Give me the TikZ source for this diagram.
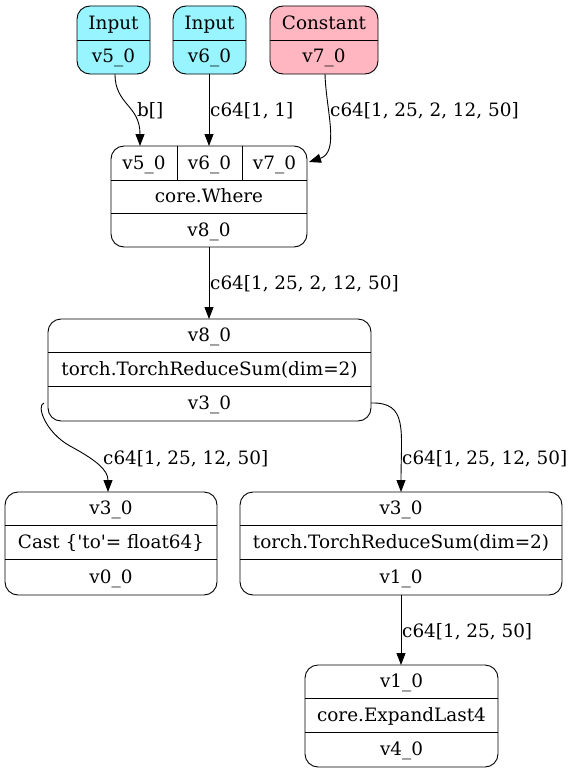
\documentclass[tikz,border=0pt]{standalone}
\usepackage{fontspec}
\setmainfont{DejaVu Serif}
\usetikzlibrary{arrows.meta}
\definecolor{inputfill}{HTML}{98F5FF}
\definecolor{constfill}{HTML}{FFB6C1}
\begin{document}
\begin{tikzpicture}[x=1bp,y=-1bp,
  font=\fontsize{18.4bp}{22bp}\selectfont,
  record/.style={draw, line width=0.9bp, rounded corners=13bp},
  divider/.style={line width=0.9bp},
  cell/.style={inner sep=0pt, anchor=base},
  edge/.style={draw, line width=0.9bp, -{Triangle[length=12bp,width=9bp]}},
  elabel/.style={inner sep=0pt, anchor=base west}]
\useasboundingbox (0,0) rectangle (576,774);

% ---- source records (cell text is placed on its baseline)
\draw[record, fill=inputfill] (77,6) rectangle (150,74);
\draw[divider] (77,40) -- (150,40);
\node[cell] (in5t) at (113.5,29.5) {Input};
\node[cell] (in5) at (113.5,63) {v5\_0};
\coordinate (in5s) at (115,74);

\draw[record, fill=inputfill] (173,6) rectangle (246,74);
\draw[divider] (173,40) -- (246,40);
\node[cell] (in6t) at (209.5,29.5) {Input};
\node[cell] (in6) at (209.5,63) {v6\_0};
\coordinate (in6s) at (209,74);

\draw[record, fill=constfill] (270,6) rectangle (378,74);
\draw[divider] (270,40) -- (378,40);
\node[cell] (c7t) at (324,29.5) {Constant};
\node[cell] (c7) at (324,63) {v7\_0};
\coordinate (c7s) at (325,74);

% ---- core.Where
\draw[record] (111,146) rectangle (307,247);
\draw[divider] (111,180) -- (307,180);
\draw[divider] (111,213) -- (307,213);
\draw[divider] (177,146) -- (177,180);
\draw[divider] (242,146) -- (242,180);
\node[cell] (w5) at (144,169) {v5\_0};
\node[cell] (w6) at (209.5,169) {v6\_0};
\node[cell] (w7) at (274.5,169) {v7\_0};
\node[cell] (wop) at (209,202.5) {core.Where};
\node[cell] (wout) at (209,236) {v8\_0};
\coordinate (w5n) at (140,146);
\coordinate (w6n) at (209,146);
\coordinate (w7e) at (309,162);
\coordinate (ws) at (209,247);

% ---- first reduce sum
\draw[record] (48,319) rectangle (371,421);
\draw[divider] (48,352) -- (371,352);
\draw[divider] (48,386) -- (371,386);
\node[cell] (r1in) at (209.5,341.5) {v8\_0};
\node[cell] (r1op) at (209.5,375) {torch.TorchReduceSum(dim=2)};
\node[cell] (r1out) at (209.5,409.5) {v3\_0};
\coordinate (r1n) at (209,319);
\coordinate (r1w) at (44,403);
\coordinate (r1e) at (371,403);

% ---- cast
\draw[record] (5,492) rectangle (217,595);
\draw[divider] (5,525) -- (217,525);
\draw[divider] (5,559) -- (217,559);
\node[cell] (cain) at (111,514.5) {v3\_0};
\node[cell] (caop) at (111,548) {Cast \{\textquotesingle to\textquotesingle= float64\}};
\node[cell] (caout) at (111,583) {v0\_0};
\coordinate (can) at (108,492);

% ---- second reduce sum
\draw[record] (240,492) rectangle (562,595);
\draw[divider] (240,525) -- (562,525);
\draw[divider] (240,559) -- (562,559);
\node[cell] (r2in) at (401,514.5) {v3\_0};
\node[cell] (r2op) at (401,548) {torch.TorchReduceSum(dim=2)};
\node[cell] (r2out) at (401,583) {v1\_0};
\coordinate (r2n) at (401,492);
\coordinate (r2s) at (401,595);

% ---- expand
\draw[record] (305,665) rectangle (498,767);
\draw[divider] (305,698) -- (498,698);
\draw[divider] (305,732) -- (498,732);
\node[cell] (exin) at (401.5,687.5) {v1\_0};
\node[cell] (exop) at (401.5,721) {core.ExpandLast4};
\node[cell] (exout) at (401.5,755.5) {v4\_0};
\coordinate (exn) at (401,665);

% ---- connectors
\draw[edge] (in5s) .. controls (115,105) and (140,105) .. (w5n);
\node[elabel] (l1) at (137,116) {b[]};
\draw[edge] (in6s) -- (w6n);
\node[elabel] (l2) at (210,116) {c64[1, 1]};
\draw[edge] (c7s) .. controls (326,110) and (340,152) .. (w7e);
\node[elabel] (l3) at (330,116) {c64[1, 25, 2, 12, 50]};
\draw[edge] (ws) -- (r1n);
\node[elabel] (l4) at (210,289) {c64[1, 25, 2, 12, 50]};
\draw[edge] (r1w) .. controls (36,405) and (45,432) .. (70,446)
  .. controls (96,460) and (108,470) .. (can);
\node[elabel] (l5) at (103,464) {c64[1, 25, 12, 50]};
\draw[edge] (r1e) .. controls (408,402) and (401,430) .. (r2n);
\node[elabel] (l6) at (402,464) {c64[1, 25, 12, 50]};
\draw[edge] (r2s) -- (exn);
\node[elabel] (l7) at (402,637) {c64[1, 25, 50]};
\end{tikzpicture}
\end{document}
